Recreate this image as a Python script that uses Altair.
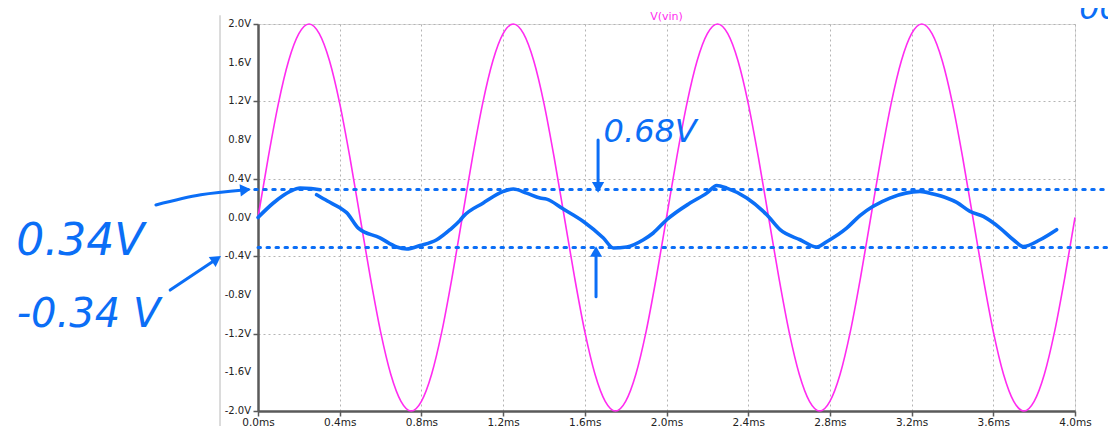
import altair as alt
import pandas as pd

# ---- data ----
t_vin = [round(i * 0.05, 2) for i in range(81)]
vin = [0.0, 0.62, 1.18, 1.62, 1.90, 2.0, 1.90, 1.62, 1.18, 0.62,
       0.0, -0.62, -1.18, -1.62, -1.90, -2.0, -1.90, -1.62, -1.18, -0.62,
       0.0, 0.62, 1.18, 1.62, 1.90, 2.0, 1.90, 1.62, 1.18, 0.62,
       0.0, -0.62, -1.18, -1.62, -1.90, -2.0, -1.90, -1.62, -1.18, -0.62,
       0.0, 0.62, 1.18, 1.62, 1.90, 2.0, 1.90, 1.62, 1.18, 0.62,
       0.0, -0.62, -1.18, -1.62, -1.90, -2.0, -1.90, -1.62, -1.18, -0.62,
       0.0, 0.62, 1.18, 1.62, 1.90, 2.0, 1.90, 1.62, 1.18, 0.62,
       0.0, -0.62, -1.18, -1.62, -1.90, -2.0, -1.90, -1.62, -1.18, -0.62,
       0.0]

# hand-drawn output sketch, two strokes
sketch_a_t = [0.0, 0.075, 0.157, 0.206, 0.26, 0.304]
sketch_a_v = [0.0, 0.15, 0.27, 0.305, 0.30, 0.287]
sketch_b_t = [0.287, 0.34, 0.401, 0.434, 0.491, 0.597, 0.679, 0.728, 0.793, 0.875,
              0.94, 0.989, 1.005, 1.103, 1.201, 1.25, 1.315, 1.381, 1.413, 1.495,
              1.593, 1.691, 1.74, 1.805, 1.887, 1.935, 2.001, 2.115, 2.197, 2.246,
              2.295, 2.393, 2.491, 2.556, 2.654, 2.735, 2.784, 2.882, 2.947, 3.094,
              3.241, 3.306, 3.372, 3.421, 3.486, 3.551, 3.633, 3.698, 3.747, 3.829,
              3.91]
sketch_b_v = [0.235, 0.17, 0.10, 0.05, -0.11, -0.21, -0.305, -0.325, -0.29, -0.23,
              -0.126, -0.03, 0.01, 0.15, 0.27, 0.295, 0.252, 0.201, 0.19, 0.087,
              -0.041, -0.212, -0.315, -0.305, -0.23, -0.16, -0.023, 0.149, 0.252, 0.33,
              0.304, 0.201, 0.028, -0.126, -0.23, -0.305, -0.25, -0.11, 0.02, 0.201,
              0.27, 0.242, 0.201, 0.156, 0.063, 0.011, -0.109, -0.23, -0.30, -0.23,
              -0.126]

# dotted reference lines
ref_v = [0.29, -0.31]
ref_t0 = [-0.06, 0.0]
ref_t1 = [4.22, 4.22]

# handwritten labels (anchored in data units)
note_text = ["0.34V", "-0.34 V", "0.68V", "00"]
note_t = [-0.87, -0.83, 1.92, 4.12]
note_v = [-0.25, -1.01, 0.88, 2.15]
note_size = [44, 40, 32, 32]

# handwritten arrows: shaft points
arrow_id = ["a", "a", "a", "b", "b", "c", "c", "d", "d"]
arrow_t = [-0.50, -0.28, -0.07, -0.43, -0.21, 1.665, 1.665, 1.655, 1.655]
arrow_v = [0.13, 0.235, 0.285, -0.75, -0.44, 0.80, 0.35, -0.82, -0.39]
head_t = [-0.07, -0.21, 1.665, 1.655]
head_v = [0.285, -0.44, 0.33, -0.37]
head_angle = [84, 56, 180, 0]

x_ticks = [0.0, 0.4, 0.8, 1.2, 1.6, 2.0, 2.4, 2.8, 3.2, 3.6, 4.0]
y_ticks = [-2.0, -1.6, -1.2, -0.8, -0.4, 0.0, 0.4, 0.8, 1.2, 1.6, 2.0]
y_labels = ["-2.0V", "-1.6V", "-1.2V", "-0.8V", "-0.4V", "0.0V",
            "0.4V", "0.8V", "1.2V", "1.6V", "2.0V"]

# ---- build ----
FONT = "DejaVu Sans"
BLUE = "#0b6ef6"
MAG = "#ff2cf0"

xs = alt.Scale(domain=[0, 4], nice=False, zero=False)
ys = alt.Scale(domain=[-2, 2], nice=False, zero=False)

axis_common = dict(grid=True, gridDash=[2, 3], gridColor="#b4b4b4", gridWidth=1,
                   domainColor="#5a5a5a", domainWidth=2.5, tickColor="#5a5a5a",
                   tickWidth=1.5, tickSize=5, labelFont=FONT,
                   labelColor="#222222", title=None, labelOverlap=False,
                   labelFlush=False)

x_axis = alt.Axis(values=x_ticks, labelExpr="format(datum.value, '.1f') + 'ms'",
                  labelPadding=1, labelFontSize=10.5, **axis_common)
y_axis = alt.Axis(values=y_ticks, labels=False, **axis_common)

X = lambda f: alt.X(f, scale=xs)
Y = lambda f: alt.Y(f, scale=ys)

df_vin = pd.DataFrame({"t": t_vin, "v": vin})
vin_line = alt.Chart(df_vin).mark_line(color=MAG, strokeWidth=1.6,
                                       interpolate="monotone").encode(
    x=alt.X("t:Q", scale=xs, axis=x_axis),
    y=alt.Y("v:Q", scale=ys, axis=y_axis),
)

# y tick labels
df_yl = pd.DataFrame({"v": y_ticks, "lab": y_labels, "t": [0.0] * len(y_ticks)})
ylabels = alt.Chart(df_yl).mark_text(font=FONT, fontSize=10, color="#222222",
                                     align="right", baseline="middle", dx=-7).encode(
    x=X("t:Q"), y=Y("v:Q"), text="lab:N")

df_sk = pd.DataFrame({
    "t": sketch_a_t + sketch_b_t,
    "v": sketch_a_v + sketch_b_v,
    "s": ["a"] * len(sketch_a_t) + ["b"] * len(sketch_b_t),
    "o": list(range(len(sketch_a_t) + len(sketch_b_t))),
})
sketch = alt.Chart(df_sk).mark_line(color=BLUE, strokeWidth=3.6, strokeCap="round",
                                    strokeJoin="round", interpolate="monotone").encode(
    x=X("t:Q"), y=Y("v:Q"), detail="s:N", order="o:Q")

df_ref = pd.DataFrame({"v": ref_v, "t0": ref_t0, "t1": ref_t1})
refs = alt.Chart(df_ref).mark_rule(color=BLUE, strokeWidth=3, strokeDash=[2.5, 6.5],
                                   strokeCap="round").encode(
    x=X("t0:Q"), x2="t1:Q", y=Y("v:Q"))

# thin gray window edge on the left
edge = alt.Chart(pd.DataFrame({"t": [-0.186], "v0": [2.09], "v1": [-2.3]})).mark_rule(
    color="#b8b8b8", strokeWidth=1).encode(
    x=X("t:Q"), y=Y("v0:Q"), y2="v1:Q")

df_notes = pd.DataFrame({"txt": note_text, "t": note_t, "v": note_v, "fs": note_size})
notes = alt.Chart(df_notes).mark_text(color=BLUE, font=FONT, fontStyle="italic",
                                      align="center", baseline="middle").encode(
    x=X("t:Q"), y=Y("v:Q"), text="txt:N",
    size=alt.Size("fs:Q", scale=None, legend=None))

# plot title, sitting on top of the frame
title_df = pd.DataFrame({"txt": ["V(vin)"], "t": [2.0], "v": [2.0]})
title_mark = alt.Chart(title_df).mark_text(color=MAG, font=FONT, fontSize=11,
                                           align="center", baseline="bottom", dy=-2).encode(
    x=X("t:Q"), y=Y("v:Q"), text="txt:N")

df_arr = pd.DataFrame({"id": arrow_id, "t": arrow_t, "v": arrow_v,
                       "o": list(range(len(arrow_id)))})
arrows = alt.Chart(df_arr).mark_line(color=BLUE, strokeWidth=3, strokeCap="round",
                                     interpolate="monotone").encode(
    x=X("t:Q"), y=Y("v:Q"), detail="id:N", order="o:Q")

df_head = pd.DataFrame({"t": head_t, "v": head_v, "a": head_angle})
heads = alt.Chart(df_head).mark_point(shape="triangle", filled=True, color=BLUE,
                                      size=150, opacity=1).encode(
    x=X("t:Q"), y=Y("v:Q"),
    angle=alt.Angle("a:Q", scale=None))

chart = alt.layer(vin_line, refs, sketch, edge, arrows, heads, notes, title_mark,
                  ylabels).properties(
    width=817, height=387,
    autosize=alt.AutoSizeParams(type="none"),
    padding={"left": 250, "top": 16, "right": 33, "bottom": 15},
).configure_view(stroke="#5a5a5a", strokeWidth=1.5).configure(background="white")

chart.save("out.html", embed_options={"renderer": "svg", "actions": False})
